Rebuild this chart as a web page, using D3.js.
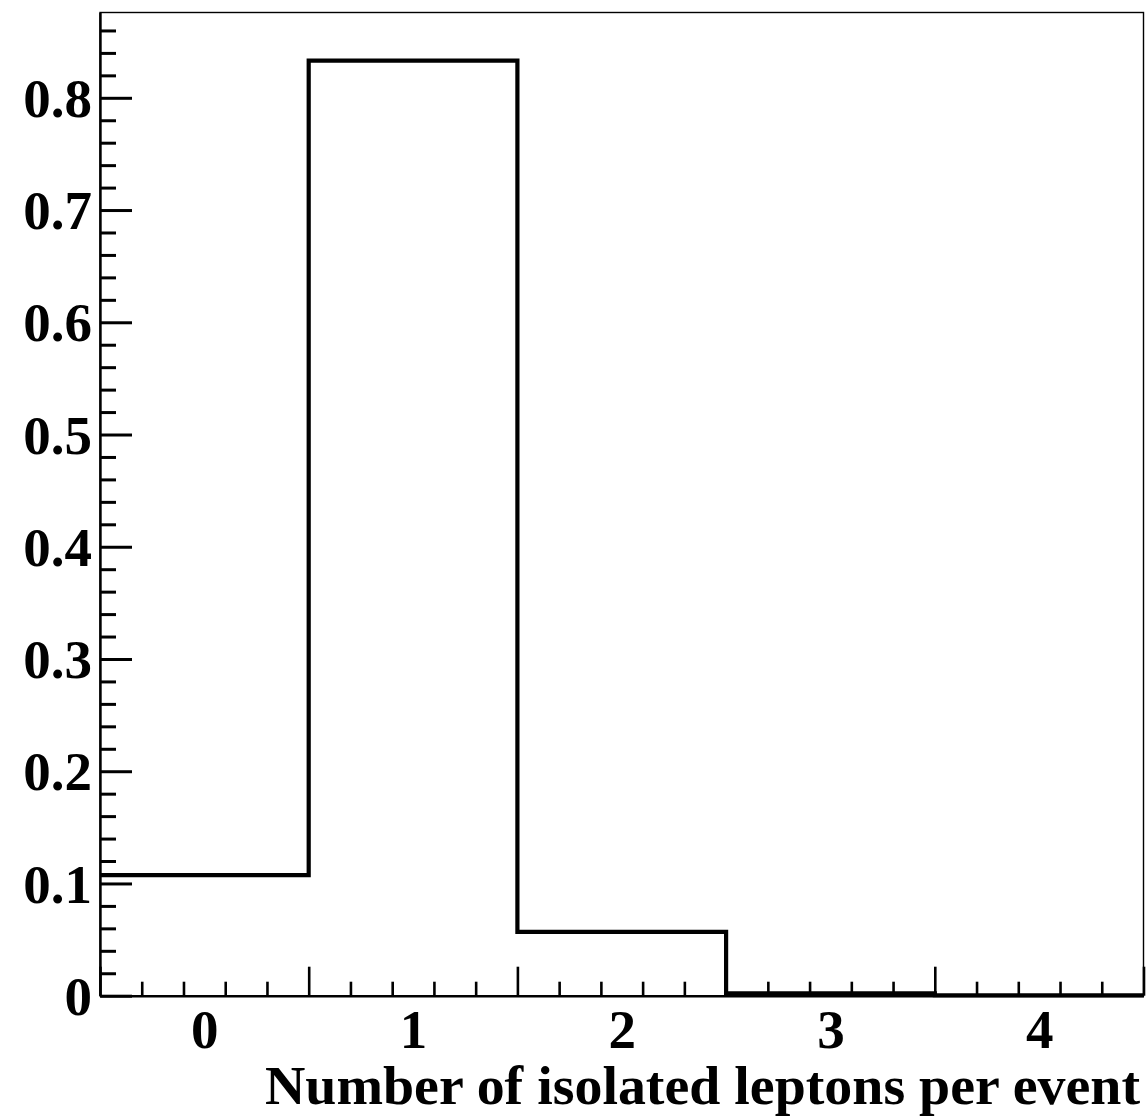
<!DOCTYPE html>
<html>
<head>
<meta charset="utf-8">
<script src="https://cdn.jsdelivr.net/npm/d3@7"></script>
<style>
  html, body { margin: 0; padding: 0; background: #fff; }
  svg { display: block; }
  text { font-family: "Liberation Serif", "Times New Roman", serif; font-weight: bold; fill: #000; }
</style>
</head>
<body>
<svg id="chart" width="1148" height="1117"></svg>
<script>
// Fraction of events per isolated-lepton multiplicity (normalised histogram)
const categories = ["0", "1", "2", "3", "4"];
const binCenters = [0, 1, 2, 3, 4];
const fractions = [0.1074, 0.8331, 0.0569, 0.0020, 0.0004];
const yTickValues = [0, 0.1, 0.2, 0.3, 0.4, 0.5, 0.6, 0.7, 0.8];
const yTickLabels = ["0", "0.1", "0.2", "0.3", "0.4", "0.5", "0.6", "0.7", "0.8"];
const xTitle = "Number of isolated leptons per event";

const svg = d3.select("#chart");
const plotL = 100, plotR = 1143.5, plotT = 12.5, plotB = 995.7;

const x = d3.scaleLinear().domain([-0.5, 4.5]).range([plotL, plotR]);
const y = d3.scaleLinear().domain([0, 0.876]).range([plotB, plotT]);

// frame
svg.append("rect")
  .attr("x", plotL).attr("y", plotT)
  .attr("width", plotR - plotL).attr("height", plotB - plotT)
  .attr("fill", "none").attr("stroke", "#000").attr("stroke-width", 1.4);

// histogram outline as a step path
const edges = d3.range(-0.5, 5, 1);
const stepPts = [];
fractions.forEach((v, i) => {
  stepPts.push([x(edges[i]), y(v)]);
  stepPts.push([x(edges[i + 1]), y(v)]);
});
svg.append("path")
  .attr("d", d3.line()(stepPts))
  .attr("fill", "none").attr("stroke", "#000")
  .attr("stroke-width", 4.2).attr("stroke-linejoin", "miter");

// y axis: minor ticks every 0.02
const yMinor = d3.range(0, 0.8705, 0.02).map(v => +v.toFixed(2))
  .filter(v => !yTickValues.some(t => Math.abs(t - v) < 1e-6));
svg.append("g")
  .attr("transform", `translate(${plotL},0)`)
  .call(d3.axisRight(y).tickValues(yMinor).tickSize(16).tickFormat(""))
  .call(g => g.select(".domain").remove())
  .call(g => g.selectAll("line").attr("stroke-width", 3));

// y axis: major ticks and labels
svg.append("g")
  .attr("transform", `translate(${plotL},0)`)
  .call(d3.axisLeft(y).tickValues(yTickValues).tickSizeInner(-32).tickSizeOuter(0)
    .tickPadding(8).tickFormat((d, i) => yTickLabels[i]))
  .call(g => g.select(".domain").attr("stroke-width", 2.4))
  .call(g => g.selectAll("line").attr("stroke-width", 3))
  .call(g => g.selectAll("text").attr("font-size", 55).attr("dy", "0.34em")
    .style("font-family", "'Liberation Serif', serif").style("font-weight", "bold"));

// x axis: minor ticks every 0.2
const xMinor = d3.range(-0.5, 4.5001, 0.2).map(v => +v.toFixed(2))
  .filter(v => Math.abs((v + 0.5) - Math.round(v + 0.5)) > 1e-6);
svg.append("g")
  .attr("transform", `translate(0,${plotB})`)
  .call(d3.axisBottom(x).tickValues(xMinor).tickSize(-14).tickFormat(""))
  .call(g => g.select(".domain").remove())
  .call(g => g.selectAll("line").attr("stroke-width", 2.6));

// x axis: major ticks at bin edges
svg.append("g")
  .attr("transform", `translate(0,${plotB})`)
  .call(d3.axisBottom(x).tickValues(edges).tickSizeInner(-29).tickSizeOuter(0).tickFormat(""))
  .call(g => g.select(".domain").attr("stroke-width", 2.6))
  .call(g => g.selectAll("line").attr("stroke-width", 2.6));

// x axis: bin labels at bin centres
svg.append("g")
  .attr("transform", `translate(0,${plotB})`)
  .call(d3.axisBottom(x).tickValues(binCenters).tickSize(0).tickPadding(13)
    .tickFormat((d, i) => categories[i]))
  .call(g => g.select(".domain").remove())
  .call(g => g.selectAll("text").attr("font-size", 55)
    .style("font-family", "'Liberation Serif', serif").style("font-weight", "bold"));

// x title
svg.append("text")
  .attr("x", 1140).attr("y", 1104)
  .attr("text-anchor", "end")
  .attr("font-size", 54)
  .attr("textLength", 875)
  .attr("lengthAdjust", "spacingAndGlyphs")
  .text(xTitle);
</script>
</body>
</html>
